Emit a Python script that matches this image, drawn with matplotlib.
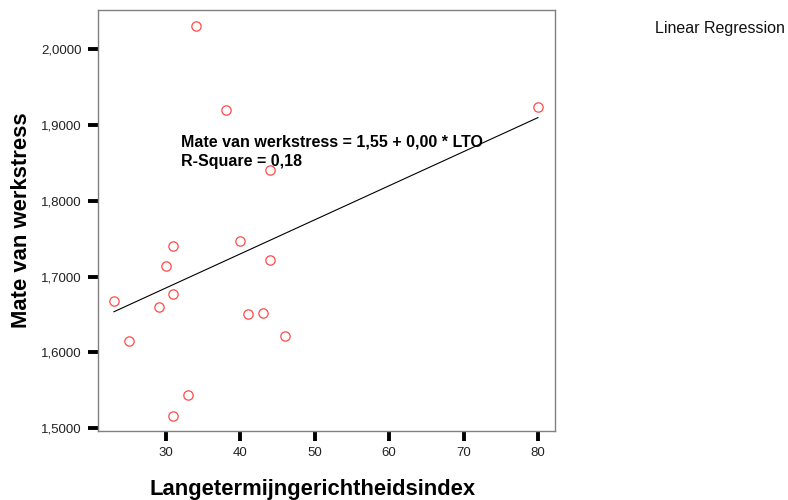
import numpy as np
import matplotlib.pyplot as plt

plt.rcParams['font.family'] = ['Liberation Sans', 'DejaVu Sans']

# Langetermijngerichtheidsindex (LTO) vs Mate van werkstress
lto = [34, 38, 44, 31, 40, 30, 44, 23, 29, 31, 25, 41, 43, 46, 33, 31, 80]
stress = [2.0307, 1.9200, 1.8410, 1.7410, 1.7470, 1.7140, 1.7220, 1.6680,
          1.6600, 1.6770, 1.6155, 1.6510, 1.6520, 1.6220, 1.5440, 1.5165, 1.9240]

x_ticks = [30, 40, 50, 60, 70, 80]
y_ticks = [1.5, 1.6, 1.7, 1.8, 1.9, 2.0]
fit_text = "Mate van werkstress = 1,55 + 0,00 * LTO\nR-Square = 0,18"


def prepare_ax(ax):
    for side in ['left', 'right', 'top', 'bottom']:
        ax.spines[side].set_color('#808080')
        ax.spines[side].set_linewidth(1.0)
    ax.tick_params(direction='out', length=7, width=2.8, color='black',
                   labelsize=9.5, labelcolor='#222222', pad=4.5)
    ax.set_xticks(x_ticks)
    ax.set_xticklabels([str(t) for t in x_ticks])
    ax.set_yticks(y_ticks)
    ax.set_yticklabels([f"{t:.4f}".replace('.', ',') for t in y_ticks])


fig = plt.figure(figsize=(7.88, 5.0), dpi=100)
ax = fig.add_axes([0.1244, 0.138, 0.580, 0.842])
prepare_ax(ax)

ax.plot(lto, stress, 'o', markersize=6.7, markerfacecolor='none',
        markeredgecolor='#ff4a4a', markeredgewidth=0.9)

slope, intercept = np.polyfit(lto, stress, 1)
xs = np.array([min(lto), max(lto)])
ax.plot(xs, intercept + slope * xs, color='black', linewidth=0.8)

ax.text(32.0, 1.8875, fit_text, fontsize=11.5, fontweight='bold',
        va='top', ha='left', linespacing=1.4)

ax.set_xlim(20.86, 82.3)
ax.set_ylim(1.4964, 2.0518)
ax.set_xlabel("Langetermijngerichtheidsindex", fontsize=15.8, fontweight='bold')
ax.set_ylabel("Mate van werkstress", fontsize=15.8, fontweight='bold')
ax.xaxis.set_label_coords(0.469, -0.114)
ax.yaxis.set_label_coords(-0.145, 0.5)

fig.text(0.831, 0.942, "Linear Regression", fontsize=11.5, ha='left', va='center', color='#111111')

fig.savefig("out.png", dpi=100, facecolor='white')
